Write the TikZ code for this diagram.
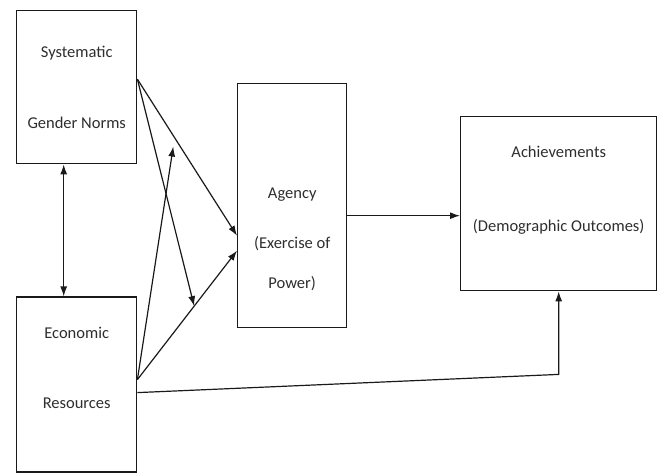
\documentclass[tikz,border=0pt]{standalone}
\usepackage{fontspec}
\setmainfont{Carlito}
\usetikzlibrary{positioning, arrows.meta, calc}
\definecolor{LineA}{HTML}{1A1A1A}
\definecolor{TextA}{HTML}{2E2E2E}
\tikzset{
  bx/.style={draw=LineA, line width=1.4pt, align=center, text=TextA,
             font=\fontsize{16.5}{19}\selectfont, inner sep=0pt},
  ar/.style={-{Latex[length=10pt,width=7pt]}, line width=1.2pt, draw=LineA},
  dar/.style={{Latex[length=10pt,width=7pt]}-{Latex[length=10pt,width=7pt]},
              line width=1.2pt, draw=LineA},
}

\begin{document}
\begin{tikzpicture}[x=1pt, y=-1pt]
  \useasboundingbox (0,0) rectangle (662,472);

  % boxes
  \node[bx, anchor=north west, minimum width=120pt, minimum height=153pt] (sgn) at (16,10)
       {Systematic\\[52pt]Gender Norms};
  \node[bx, below=132pt of sgn, minimum width=120pt, minimum height=175pt,
        text depth=34pt] (eco)
       {Economic\\[51pt]Resources};
  \node[bx, anchor=north west, minimum width=109pt, minimum height=244pt,
        text height=168pt] (ag) at (237,83)
       {Agency\\[31pt](Exercise of\\[21pt]Power)};
  \node[bx, anchor=north west, minimum width=196pt, minimum height=174pt,
        text depth=30pt] (ach) at (460,116)
       {Achievements\\[55pt](Demographic Outcomes)};

  % connector ends
  \coordinate (sgnOut) at ([yshift=8pt]sgn.east);
  \coordinate (ecoOut) at ([yshift=5pt]eco.east);
  \coordinate (ecoLow) at ([yshift=-8pt]eco.east);
  \coordinate (agInA) at ([yshift=-30pt]ag.west);
  \coordinate (agInB) at ([yshift=-45pt]ag.west);
  \coordinate (modB) at ($(ecoOut)!0.57!(agInB)$);
  \coordinate (modA) at ($(sgnOut)!0.36!(agInA) + (0,11)$);
  \coordinate (bend) at ([yshift=-83pt]ach.south);

  \draw[dar] ([xshift=-13pt]sgn.south) -- ([xshift=-13pt]eco.north);
  \draw[ar] (sgnOut) -- (agInA);
  \draw[ar] (sgnOut) -- (modB);
  \draw[ar] (ecoOut) -- (agInB);
  \draw[ar] (ecoOut) -- (modA);
  \draw[ar] ([yshift=-10pt]ag.east) -- ([yshift=-10pt]ag.east -| ach.west);
  \draw[ar] (ecoLow) -- (bend) -- (ach.south);
\end{tikzpicture}
\end{document}
